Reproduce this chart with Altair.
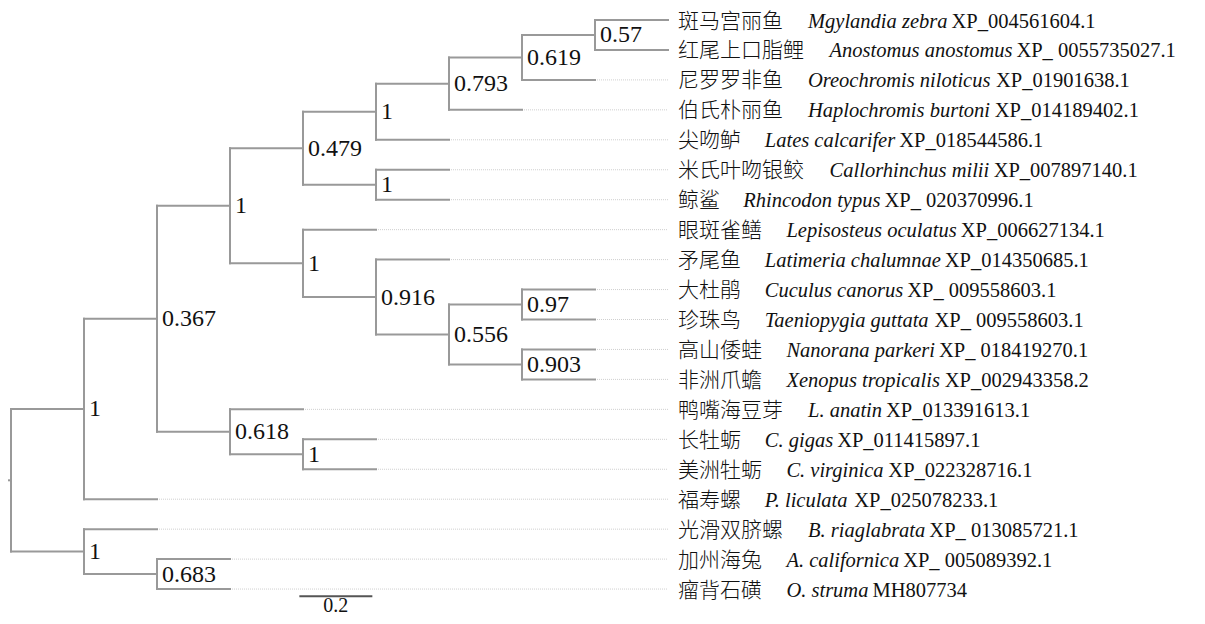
import altair as alt
import pandas as pd

# ---------------- data ----------------
leaf_cn = ["斑马宫丽鱼", "红尾上口脂鲤", "尼罗罗非鱼", "伯氏朴丽鱼", "尖吻鲈", "米氏叶吻银鲛",
           "鲸鲨", "眼斑雀鳝", "矛尾鱼", "大杜鹃", "珍珠鸟", "高山倭蛙", "非洲爪蟾",
           "鸭嘴海豆芽", "长牡蛎", "美洲牡蛎", "福寿螺", "光滑双脐螺", "加州海兔", "瘤背石磺"]
leaf_sp = ["Mgylandia zebra", "Anostomus anostomus", "Oreochromis niloticus", "Haplochromis burtoni",
           "Lates calcarifer", "Callorhinchus milii", "Rhincodon typus", "Lepisosteus oculatus",
           "Latimeria chalumnae", "Cuculus canorus", "Taeniopygia guttata", "Nanorana parkeri",
           "Xenopus tropicalis", "L. anatin", "C. gigas", "C. virginica", "P. liculata",
           "B. riaglabrata", "A. californica", "O. struma"]
leaf_acc = ["XP_004561604.1", "XP_ 0055735027.1", "XP_01901638.1", "XP_014189402.1",
            "XP_018544586.1", "XP_007897140.1", "XP_ 020370996.1", "XP_006627134.1",
            "XP_014350685.1", "XP_ 009558603.1", "XP_ 009558603.1", "XP_ 018419270.1",
            "XP_002943358.2", "XP_013391613.1", "XP_011415897.1", "XP_022328716.1",
            "XP_025078233.1", "XP_ 013085721.1", "XP_ 005089392.1", "MH807734"]
leaf_parent = ["H", "H", "G", "F", "E", "I", "I", "J", "K", "M", "M", "N", "N",
               "O", "P", "P", "A", "Q", "R", "R"]

node_ids = ["root", "A", "B", "C", "D", "E", "F", "G", "H", "I",
            "J", "K", "L", "M", "N", "O", "P", "Q", "R"]
node_parent = [None, "root", "A", "B", "C", "D", "E", "F", "G", "D",
               "C", "J", "K", "L", "L", "B", "O", "root", "Q"]
node_support = ["", "1", "0.367", "1", "0.479", "1", "0.793", "0.619", "0.57", "1",
                "1", "0.916", "0.556", "0.97", "0.903", "0.618", "1", "1", "0.683"]

scale_bar_label = "0.2"

# ---------------- layout computation (cladogram) ----------------
STEP = 73.0      # px per tree level
ROW = 29.95      # px per leaf row
W, H = 1189, 608
X0, Y0 = 3.0, 12.0

SERIF = "'Liberation Serif', 'Times New Roman', Times, serif"
CJK = "'Liberation Serif', 'Noto Sans CJK SC', 'Noto Sans CJK TC', serif"

parent_of = dict(zip(node_ids, node_parent))
leaf_ids = [f"leaf{i}" for i in range(len(leaf_cn))]
for lid, p in zip(leaf_ids, leaf_parent):
    parent_of[lid] = p

children = {n: [] for n in node_ids}
for n, p in parent_of.items():
    if p is not None:
        children[p].append(n)


def depth(n):
    p = parent_of[n]
    return 0 if p is None else depth(p) + 1


ypos = {lid: i for i, lid in enumerate(leaf_ids)}


def gety(n):
    if n not in ypos:
        ys = [gety(c) for c in children[n]]
        ypos[n] = (min(ys) + max(ys)) / 2.0
    return ypos[n]


gety("root")
dep = {n: depth(n) for n in parent_of}
max_depth = max(dep[l] for l in leaf_ids)

solid, dotted = [], []
for n in node_ids:
    ys = [ypos[c] for c in children[n]]
    solid.append(dict(x=dep[n], x2=dep[n], y=min(ys), y2=max(ys)))
for n, p in parent_of.items():
    if p is None:
        solid.append(dict(x=-0.1, x2=0, y=ypos[n], y2=ypos[n]))
    else:
        solid.append(dict(x=dep[p], x2=dep[n], y=ypos[n], y2=ypos[n]))
for l in leaf_ids:
    if dep[l] < max_depth:
        dotted.append(dict(x=dep[l], x2=max_depth, y=ypos[l], y2=ypos[l]))

solid_df = pd.DataFrame(solid)
dotted_df = pd.DataFrame(dotted)

sup_df = pd.DataFrame([dict(x=dep[n], y=ypos[n], t=s)
                       for n, s in zip(node_ids, node_support) if s])

# text metrics (Times italic widths, per 1000 em)
ITW = {' ': 250, '.': 250, 'A': 611, 'B': 611, 'C': 667, 'H': 722, 'L': 556, 'M': 833,
       'N': 667, 'O': 722, 'P': 611, 'R': 611, 'T': 556, 'X': 611,
       'a': 500, 'b': 500, 'c': 444, 'd': 500, 'e': 444, 'f': 278, 'g': 500, 'h': 500,
       'i': 278, 'j': 278, 'k': 444, 'l': 278, 'm': 722, 'n': 500, 'o': 500, 'p': 500,
       'q': 500, 'r': 389, 's': 389, 't': 278, 'u': 500, 'v': 444, 'w': 667, 'x': 444,
       'y': 444, 'z': 389}
CJK_SIZE = 21
CJK_ADV = 21.6
LAT_SIZE = 20.5

rows = []
for i, l in enumerate(leaf_ids):
    x_cn = max_depth + 10 / STEP
    x_sp = max_depth + (10 + len(leaf_cn[i]) * CJK_ADV + 22) / STEP
    wsp = sum(ITW.get(c, 500) for c in leaf_sp[i]) / 1000 * LAT_SIZE
    x_acc = x_sp + (wsp + 4) / STEP
    rows.append(dict(y=ypos[l], cn=leaf_cn[i], sp=leaf_sp[i], acc=leaf_acc[i],
                     x_cn=x_cn, x_sp=x_sp, x_acc=x_acc))
leaf_df = pd.DataFrame(rows)

bar_y = len(leaf_ids) - 1 + 0.24
bar_df = pd.DataFrame([dict(x=3.95, x2=4.95, y=bar_y, y2=bar_y,
                            xm=4.45, t=scale_bar_label)])

xs = alt.Scale(domain=[-X0 / STEP, (W - X0) / STEP], nice=False, zero=False)
ys = alt.Scale(domain=[-Y0 / ROW, (H - Y0) / ROW], nice=False, zero=False, reverse=True)


def X(f):
    return alt.X(f, type="quantitative", scale=xs, axis=None)


def Y(f):
    return alt.Y(f, type="quantitative", scale=ys, axis=None)


dotted_layer = alt.Chart(dotted_df).mark_rule(
    color="#cfcfcf", strokeWidth=1, strokeDash=[1, 1]
).encode(x=X("x"), x2="x2", y=Y("y"), y2="y2")

solid_layer = alt.Chart(solid_df).mark_rule(
    color="#999999", strokeWidth=2, strokeCap="square"
).encode(x=X("x"), x2="x2", y=Y("y"), y2="y2")

sup_layer = alt.Chart(sup_df).mark_text(
    align="left", baseline="alphabetic", dx=5, dy=7.5,
    font=SERIF, fontSize=24, color="#111111"
).encode(x=X("x"), y=Y("y"), text="t:N")

cn_layer = alt.Chart(leaf_df).mark_text(
    align="left", baseline="alphabetic", dy=7.5,
    font=CJK, fontSize=CJK_SIZE, fontWeight=300, color="#111111"
).encode(x=X("x_cn"), y=Y("y"), text="cn:N")

sp_layer = alt.Chart(leaf_df).mark_text(
    align="left", baseline="alphabetic", dy=7.5,
    font=SERIF, fontStyle="italic", fontSize=LAT_SIZE, color="#111111"
).encode(x=X("x_sp"), y=Y("y"), text="sp:N")

acc_layer = alt.Chart(leaf_df).mark_text(
    align="left", baseline="alphabetic", dy=7.5,
    font=SERIF, fontSize=LAT_SIZE, color="#111111"
).encode(x=X("x_acc"), y=Y("y"), text="acc:N")

bar_layer = alt.Chart(bar_df).mark_rule(
    color="#555555", strokeWidth=2
).encode(x=X("x"), x2="x2", y=Y("y"), y2="y2")

bar_text = alt.Chart(bar_df).mark_text(
    align="center", baseline="alphabetic", dy=16,
    font=SERIF, fontSize=20, color="#111111"
).encode(x=X("xm"), y=Y("y"), text="t:N")

chart = alt.layer(
    dotted_layer, solid_layer, sup_layer, cn_layer, sp_layer, acc_layer, bar_layer, bar_text
).properties(
    width=W, height=H, padding=0,
    autosize=alt.AutoSizeParams(type="none")
).configure_view(stroke=None)

chart.save("out.html", embed_options={"renderer": "svg", "actions": False})
